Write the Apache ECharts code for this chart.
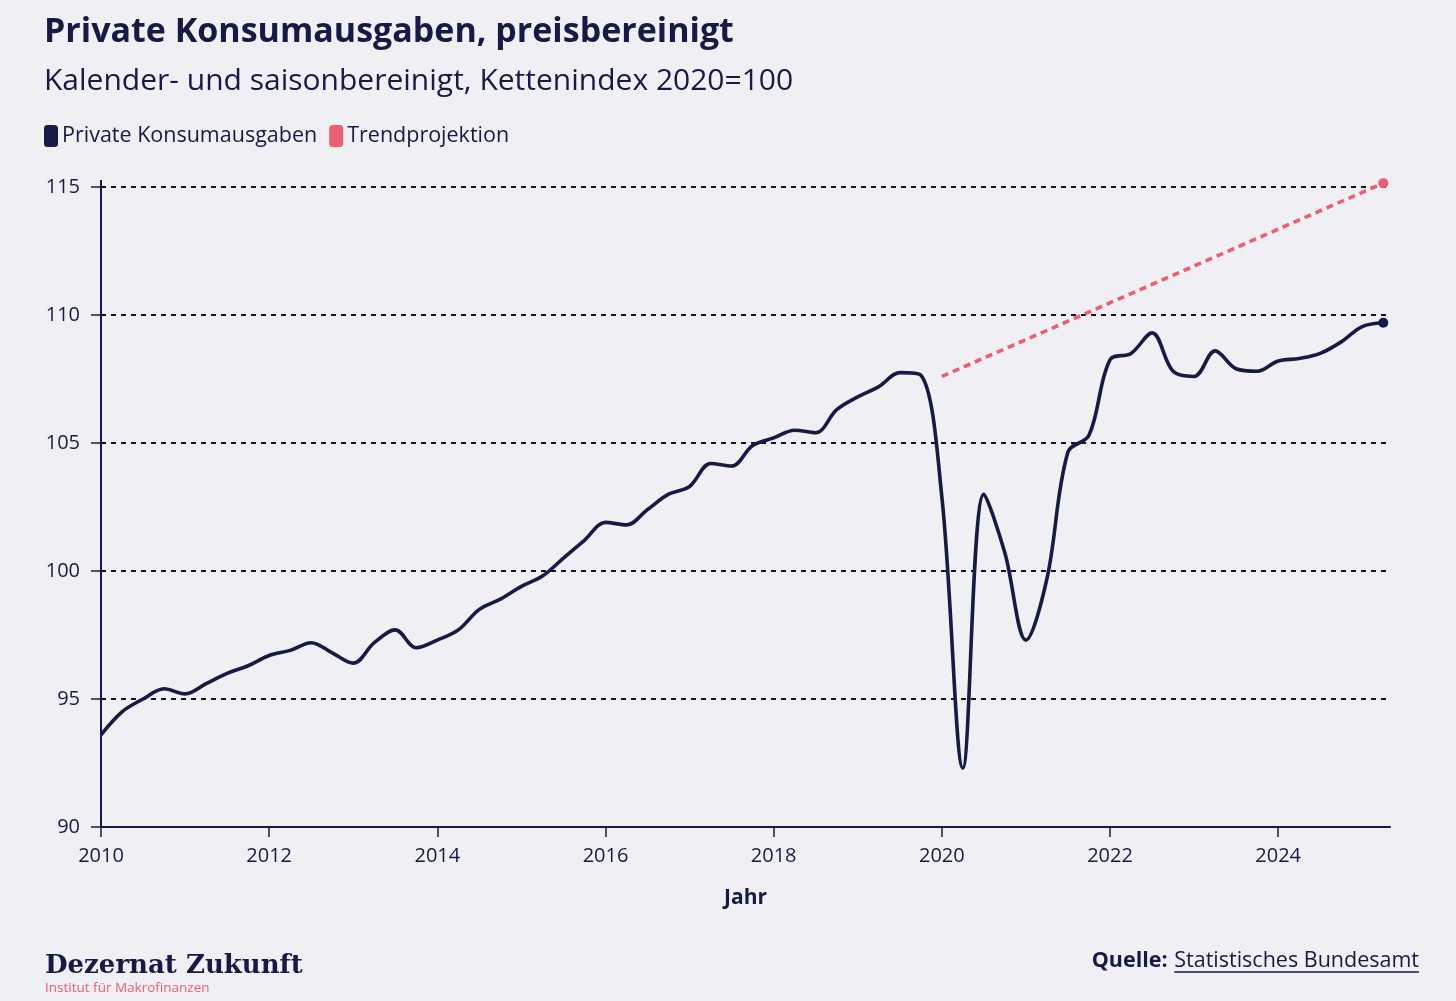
<!DOCTYPE html>
<html>
<head>
<meta charset="utf-8">
<script src="https://cdn.jsdelivr.net/npm/echarts@6/dist/echarts.min.js"></script>
<style>
  html, body { margin: 0; padding: 0; background: #f0f0f4; }
  #chart { width: 1456px; height: 1001px; }
</style>
</head>
<body>
<div id="chart"></div>
<script>
// Quarters from 2010 Q1 to 2025 Q2
const quarters = [
  '2010Q1','2010Q2','2010Q3','2010Q4','2011Q1','2011Q2','2011Q3','2011Q4',
  '2012Q1','2012Q2','2012Q3','2012Q4','2013Q1','2013Q2','2013Q3','2013Q4',
  '2014Q1','2014Q2','2014Q3','2014Q4','2015Q1','2015Q2','2015Q3','2015Q4',
  '2016Q1','2016Q2','2016Q3','2016Q4','2017Q1','2017Q2','2017Q3','2017Q4',
  '2018Q1','2018Q2','2018Q3','2018Q4','2019Q1','2019Q2','2019Q3','2019Q4',
  '2020Q1','2020Q2','2020Q3','2020Q4','2021Q1','2021Q2','2021Q3','2021Q4',
  '2022Q1','2022Q2','2022Q3','2022Q4','2023Q1','2023Q2','2023Q3','2023Q4',
  '2024Q1','2024Q2','2024Q3','2024Q4','2025Q1','2025Q2'
];
// Private Konsumausgaben, Kettenindex 2020=100
const konsum = [
  93.6, 94.5, 95.0, 95.4, 95.2, 95.6, 96.0, 96.3,
  96.7, 96.9, 97.2, 96.8, 96.4, 97.2, 97.7, 97.0,
  97.3, 97.7, 98.5, 98.9, 99.4, 99.8, 100.5, 101.2,
  101.9, 101.8, 102.4, 103.0, 103.3, 104.2, 104.1, 104.9,
  105.2, 105.5, 105.4, 106.3, 106.8, 107.2, 107.75, 107.65,
  102.9, 92.3, 103.0, 100.7, 97.3, 99.7, 104.65, 105.3,
  108.25, 108.5, 109.3, 107.8, 107.6, 108.6, 107.9, 107.8,
  108.2, 108.3, 108.5, 108.95, 109.55, 109.7
];
// Trendprojektion: start and end
const trendQuarters = ['2020Q1', '2025Q2'];
const trendValues = [107.6, 115.15];

const xTicks = [2010, 2012, 2014, 2016, 2018, 2020, 2022, 2024];
const yMin = 90, yMax = 115, yStep = 5;

const navy = '#161a44';
const pink = '#ea5f72';
const bg = '#f0f0f4';
const font = '"Open Sans", "Noto Sans", sans-serif';

function qToYear(q) {
  const y = parseInt(q.slice(0, 4), 10);
  const n = parseInt(q.slice(5), 10);
  return y + (n - 1) / 4;
}

const mainData = quarters.map((q, i) => {
  const item = { value: [qToYear(q), konsum[i]] };
  if (i === quarters.length - 1) { item.symbol = 'circle'; item.symbolSize = 10; }
  return item;
});
const trendData = trendQuarters.map((q, i) => {
  const item = { value: [qToYear(q), trendValues[i]] };
  item.symbol = i === trendQuarters.length - 1 ? 'circle' : 'none';
  item.symbolSize = 10;
  return item;
});

// measure text for underline
function textWidth(txt, f) {
  const c = document.createElement('canvas').getContext('2d');
  c.font = f;
  return c.measureText(txt).width;
}
const srcSize = 21.5;
const srcName = 'Statistisches Bundesamt';
const srcW = textWidth(srcName, srcSize + 'px "Open Sans"');
const srcRight = 1419;

const chart = echarts.init(document.getElementById('chart'), null, { renderer: 'canvas' });
chart.setOption({
  backgroundColor: bg,
  animation: false,
  title: [
    {
      text: 'Private Konsumausgaben, preisbereinigt',
      left: 44, top: 15, padding: 0,
      textStyle: { fontFamily: font, fontSize: 34, fontWeight: 'bold', color: navy }
    },
    {
      text: 'Kalender- und saisonbereinigt, Kettenindex 2020=100',
      left: 44, top: 66, padding: 0,
      textStyle: { fontFamily: font, fontSize: 30, fontWeight: 'normal', color: navy }
    }
  ],
  legend: {
    left: 44, top: 125, padding: 0,
    icon: 'roundRect',
    itemWidth: 14, itemHeight: 22, itemGap: 12,
    itemStyle: { borderWidth: 0 },
    textStyle: { fontFamily: font, fontSize: 21.5, color: navy, padding: [0, 0, 0, -1] },
    data: ['Private Konsumausgaben', 'Trendprojektion']
  },
  grid: { left: 101, right: 66, top: 187, bottom: 174, containLabel: false },
  xAxis: {
    type: 'value',
    min: 2010, max: 2025.33,
    interval: 2,
    name: 'Jahr',
    nameLocation: 'middle',
    nameGap: 61,
    nameTextStyle: { fontFamily: font, fontSize: 21, fontWeight: 'bold', color: navy },
    axisLine: { show: true, onZero: false, lineStyle: { color: navy, width: 2 } },
    axisTick: { show: true, length: 10, customValues: xTicks, lineStyle: { color: navy, width: 1.5 } },
    axisLabel: {
      customValues: xTicks, margin: 19,
      fontFamily: font, fontSize: 20, color: navy,
      formatter: v => String(Math.round(v))
    },
    splitLine: { show: false }
  },
  yAxis: {
    type: 'value',
    min: yMin, max: yMax, interval: yStep,
    axisLine: { show: true, lineStyle: { color: navy, width: 2 } },
    axisTick: { show: true, length: 10, lineStyle: { color: navy, width: 1.5 } },
    axisLabel: { margin: 21, fontFamily: font, fontSize: 20, color: navy },
    splitLine: { show: true, lineStyle: { color: '#10122e', width: 2, type: [5, 5] } }
  },
  series: [
    {
      name: 'Private Konsumausgaben',
      type: 'line',
      data: mainData,
      smooth: 0.35,
      symbol: 'none',
      showSymbol: true,
      clip: false,
      color: navy,
      itemStyle: { color: navy, borderWidth: 0 },
      lineStyle: { color: navy, width: 3.6 },
      z: 3
    },
    {
      name: 'Trendprojektion',
      type: 'line',
      data: trendData,
      symbol: 'none',
      showSymbol: true,
      clip: false,
      color: pink,
      itemStyle: { color: pink, borderWidth: 0 },
      lineStyle: { color: pink, width: 3.6, type: [7, 5] },
      z: 4
    }
  ],
  graphic: [
    {
      type: 'line',
      shape: { x1: 101, y1: 187, x2: 101, y2: 180 },
      style: { stroke: navy, lineWidth: 2 }
    },
    {
      type: 'text', left: 45, top: 953,
      style: { text: 'Dezernat Zukunft', font: 'bold 26px "DejaVu Serif", serif', fill: navy }
    },
    {
      type: 'text', left: 45, top: 981,
      style: { text: 'Institut für Makrofinanzen', font: '13.5px "Open Sans", sans-serif', fill: pink }
    },
    {
      type: 'text', right: 1456 - srcRight, top: 950,
      style: {
        text: '{b|Quelle:}  {n|' + srcName + '}',
        rich: {
          b: { fontFamily: font, fontSize: srcSize, fontWeight: 'bold', fill: navy, color: navy },
          n: { fontFamily: font, fontSize: srcSize, fill: navy, color: navy }
        }
      }
    },
    {
      type: 'line',
      shape: { x1: srcRight - srcW, y1: 972, x2: srcRight, y2: 972 },
      style: { stroke: navy, lineWidth: 1.3 }
    }
  ]
});
</script>
</body>
</html>
